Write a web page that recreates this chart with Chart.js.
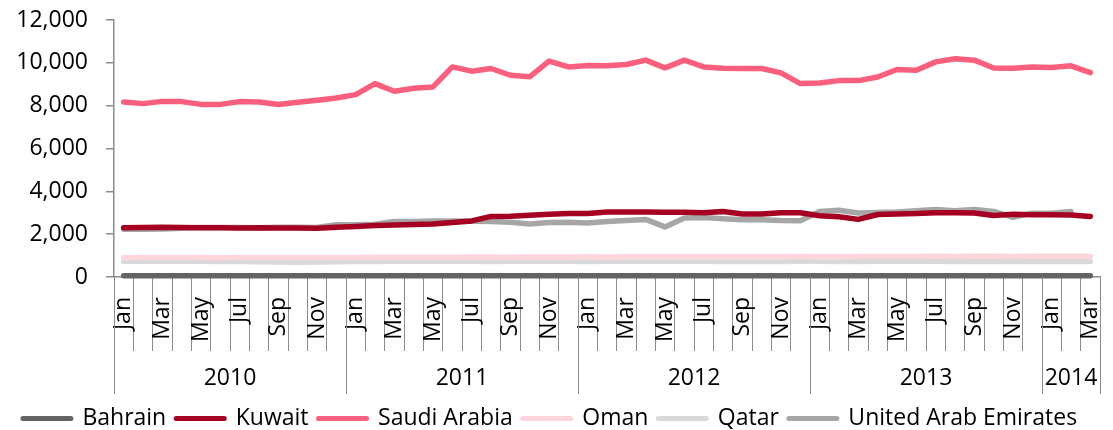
<!DOCTYPE html>
<html>
<head>
<meta charset="utf-8">
<script src="https://cdn.jsdelivr.net/npm/chart.js@4"></script>
<style>
  html, body { margin: 0; padding: 0; background: #fff; }
  #wrap { width: 1113px; height: 430px; }
</style>
</head>
<body>
<div id="wrap"><canvas id="chart"></canvas></div>
<script>
// Jan 2010 -> Mar 2014, monthly
const months = [
  'Jan','Feb','Mar','Apr','May','Jun','Jul','Aug','Sep','Oct','Nov','Dec',
  'Jan','Feb','Mar','Apr','May','Jun','Jul','Aug','Sep','Oct','Nov','Dec',
  'Jan','Feb','Mar','Apr','May','Jun','Jul','Aug','Sep','Oct','Nov','Dec',
  'Jan','Feb','Mar','Apr','May','Jun','Jul','Aug','Sep','Oct','Nov','Dec',
  'Jan','Feb','Mar'
];
const years = ['2010','2011','2012','2013','2014'];
const yearStarts = [0, 12, 24, 36, 48];

const bahrain = [
  60,60,60,60,60,60,60,60,60,60,60,60,
  60,60,60,60,60,60,60,60,60,60,60,60,
  60,60,60,60,60,60,60,60,60,60,60,60,
  60,60,60,60,60,60,60,60,60,60,60,60,
  60,60,60
];
const kuwait = [
  2300,2310,2320,2310,2300,2300,2290,2300,2290,2290,2280,2320,
  2360,2400,2430,2450,2480,2540,2620,2830,2840,2880,2930,2960,
  2970,3030,3040,3030,3020,3020,3000,3060,2940,2940,3000,3000,
  2860,2810,2690,2920,2940,2960,3000,3000,2990,2870,2930,2910,
  2910,2900,2830
];
const saudi = [
  8170,8095,8200,8190,8060,8060,8190,8170,8050,8156,8250,8360,
  8515,9030,8670,8810,8875,9810,9610,9735,9420,9345,10080,9810,
  9875,9860,9920,10125,9765,10125,9810,9750,9735,9735,9530,9030,
  9060,9170,9170,9340,9690,9655,10045,10190,10125,9760,9750,9810,
  9780,9860,9545
];
const oman = [
  900,905,905,910,905,900,905,905,910,905,910,915,
  915,920,920,925,920,925,930,930,925,930,935,935,
  940,935,940,945,940,945,945,950,950,945,950,955,
  950,950,955,960,955,960,965,960,965,965,960,965,
  965,970,970
];
const qatar = [
  740,735,735,740,730,725,720,710,700,690,695,710,
  720,725,730,730,735,730,730,725,730,735,730,730,
  725,730,730,735,730,735,730,725,720,720,725,730,
  730,725,725,730,730,735,730,725,725,720,720,720,
  725,720,720
];
const uae = [
  2230,2230,2240,2280,2310,2310,2310,2300,2320,2320,2310,2440,
  2440,2460,2590,2590,2620,2620,2600,2590,2560,2470,2540,2560,
  2520,2590,2640,2690,2340,2750,2780,2720,2670,2670,2640,2630,
  3060,3120,2990,3010,3030,3090,3150,3090,3150,3060,2790,2980,
  2980,3060,null
];

const FONT = 'Open Sans';
const FSIZE = 23;
const AXIS = '#8c8c8c';

function ds(label, data, color) {
  return {
    label, data,
    borderColor: color, backgroundColor: color,
    borderWidth: 5.5, pointRadius: 0, pointHoverRadius: 0,
    pointBorderWidth: 5, pointBorderColor: color,
    borderCapStyle: 'round', borderJoinStyle: 'round',
    tension: 0, spanGaps: false, clip: 6
  };
}

// year row under the month labels
const yearAxis = {
  id: 'yearAxis',
  afterDraw(chart) {
    const x = chart.scales.x, ctx = chart.ctx;
    const half = (x.getPixelForValue(1) - x.getPixelForValue(0)) / 2;
    const bounds = yearStarts.concat([months.length]);
    ctx.save();
    ctx.strokeStyle = AXIS;
    ctx.lineWidth = 1;
    bounds.forEach(i => {
      const px = Math.round(x.getPixelForValue(i) - half) + 0.5;
      ctx.beginPath();
      ctx.moveTo(px, x.top);
      ctx.lineTo(px, x.top + 117);
      ctx.stroke();
    });
    ctx.fillStyle = '#000';
    ctx.font = FSIZE + 'px "' + FONT + '"';
    ctx.textAlign = 'center';
    ctx.textBaseline = 'middle';
    years.forEach((y, k) => {
      const a = x.getPixelForValue(bounds[k]) - half;
      const b = x.getPixelForValue(bounds[k + 1]) - half;
      ctx.fillText(y, (a + b) / 2, x.top + 101);
    });
    ctx.restore();
  }
};

new Chart(document.getElementById('chart'), {
  type: 'line',
  data: {
    labels: months,
    datasets: [
      ds('Bahrain', bahrain, '#646464'),
      ds('Kuwait', kuwait, '#A50021'),
      ds('Saudi Arabia', saudi, '#FA5F7D'),
      ds('Oman', oman, '#FFD5DD'),
      ds('Qatar', qatar, '#D9D9D9'),
      ds('United Arab Emirates', uae, '#A6A6A6')
    ]
  },
  options: {
    responsive: true,
    maintainAspectRatio: false,
    animation: false,
    layout: { padding: { top: 20, right: 13, left: 0, bottom: -10 } },
    plugins: {
      tooltip: { enabled: false },
      legend: {
        position: 'bottom',
        labels: {
          usePointStyle: true,
          pointStyle: 'line',
          pointStyleWidth: 48,
          padding: 10,
          color: '#000',
          font: { family: FONT, size: FSIZE },
          generateLabels(chart) {
            return Chart.defaults.plugins.legend.labels.generateLabels(chart).map(l => {
              l.lineCap = 'round';
              l.lineWidth = 5;
              return l;
            });
          }
        }
      }
    },
    scales: {
      x: {
        offset: true,
        grid: { offset: true, drawOnChartArea: false, tickLength: 74, color: AXIS, lineWidth: 1 },
        border: { color: AXIS, width: 1.5 },
        ticks: {
          autoSkip: false, minRotation: 90, maxRotation: 90, padding: -54,
          color: '#000', font: { family: FONT, size: FSIZE },
          callback: (v, i) => i % 2 === 0 ? months[i] : ''
        },
        afterFit: s => { s.height = 120; }
      },
      y: {
        min: 0, max: 12000,
        grid: { drawOnChartArea: false, tickLength: 8, color: AXIS, lineWidth: 1.5 },
        border: { color: AXIS, width: 1.5 },
        ticks: {
          stepSize: 2000, padding: 18, color: '#000',
          font: { family: FONT, size: FSIZE },
          callback: v => v.toLocaleString('en-US')
        },
        afterFit: s => { s.width = 114; s.paddingTop = 0; s.paddingBottom = 0; }
      }
    }
  },
  plugins: [yearAxis]
});
</script>
</body>
</html>
